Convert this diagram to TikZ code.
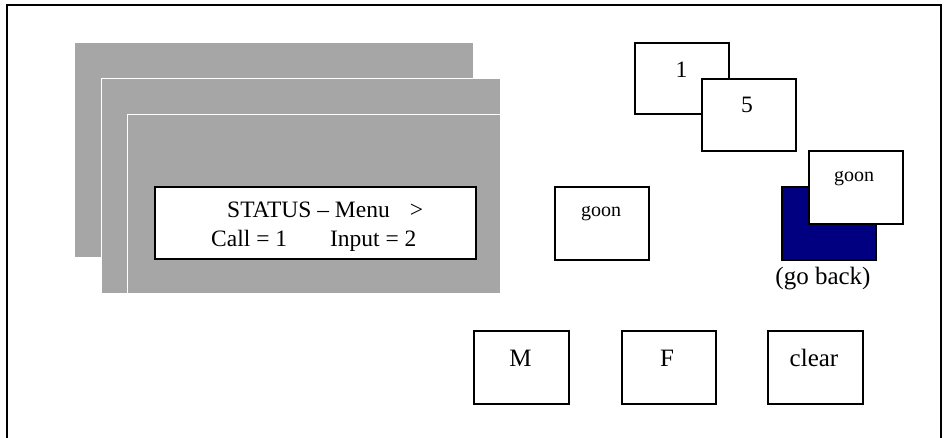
\documentclass[tikz,border=0pt]{standalone}
\usepackage{fontspec}
\setmainfont{Liberation Serif}
\definecolor{panelgray}{RGB}{166,166,166}
\definecolor{navyfill}{RGB}{0,0,128}
\begin{document}
\begin{tikzpicture}[x=1pt,y=-1pt,
  panel/.style={fill=panelgray,inner sep=0pt,anchor=north west},
  panelw/.style={panel,draw=white,line width=1.3pt},
  keybox/.style={draw=black,fill=white,line width=1.8pt,inner sep=0pt,anchor=north west},
  lbl/.style={inner sep=0pt,anchor=base,font=\fontsize{23.5}{28}\selectfont},
  small/.style={inner sep=0pt,anchor=base,font=\fontsize{20}{24}\selectfont},
  big/.style={inner sep=0pt,anchor=base,font=\fontsize{25}{30}\selectfont}]
\useasboundingbox (0,0) rectangle (946,438);
% frame
\coordinate (fbl) at (7,438);
\coordinate (ftl) at (7,5);
\coordinate (ftr) at (941,5);
\coordinate (fbr) at (941,438);
\draw[line width=2pt] (fbl) -- (ftl) -- (ftr) -- (fbr);
% stacked gray panels
\node[panel,minimum width=398pt,minimum height=214pt] (p1) at (75,43) {};
\node[panelw,minimum width=399pt,minimum height=215pt] (p2) at (101,78) {};
\node[panelw,minimum width=373pt,minimum height=179pt] (p3) at (127,114) {};
% display
\node[keybox,minimum width=321pt,minimum height=72pt] (disp) at (154,186) {};
\node[lbl,anchor=base west] (l1) at (227,218) {STATUS – Menu\hspace{20pt}>};
\node[lbl,anchor=base west] (l2) at (211,247) {Call = 1\hspace{43pt}Input = 2};
% number boxes
\node[keybox,minimum width=94pt,minimum height=71pt] (b1) at (634,42) {};
\node[lbl] (t1) at (681.5,77.5) {1};
\node[keybox,minimum width=94pt,minimum height=72pt] (b5) at (701,78) {};
\node[lbl] (t5) at (747,112.5) {5};
% goon left
\node[keybox,minimum width=94pt,minimum height=73pt] (g1) at (554,186) {};
\node[small] (tg1) at (601,216.5) {goon};
% go back
\node[keybox,fill=navyfill,minimum width=94pt,minimum height=73pt] (gb) at (781,186) {};
\node[keybox,minimum width=94pt,minimum height=73pt] (g2) at (808,150) {};
\node[small] (tg2) at (854,181.5) {goon};
\node[big] (tgb) at (823,285) {(go back)};
% bottom keys
\node[keybox,minimum width=95pt,minimum height=73pt] (km) at (473,330) {};
\node[big] (tm) at (520.5,366.5) {M};
\node[keybox,minimum width=94pt,minimum height=73pt] (kf) at (621,330) {};
\node[big] (tf) at (667,366.5) {F};
\node[keybox,minimum width=95pt,minimum height=73pt] (kc) at (767,330) {};
\node[big] (tc) at (814,366.5) {clear};
\end{tikzpicture}
\end{document}
